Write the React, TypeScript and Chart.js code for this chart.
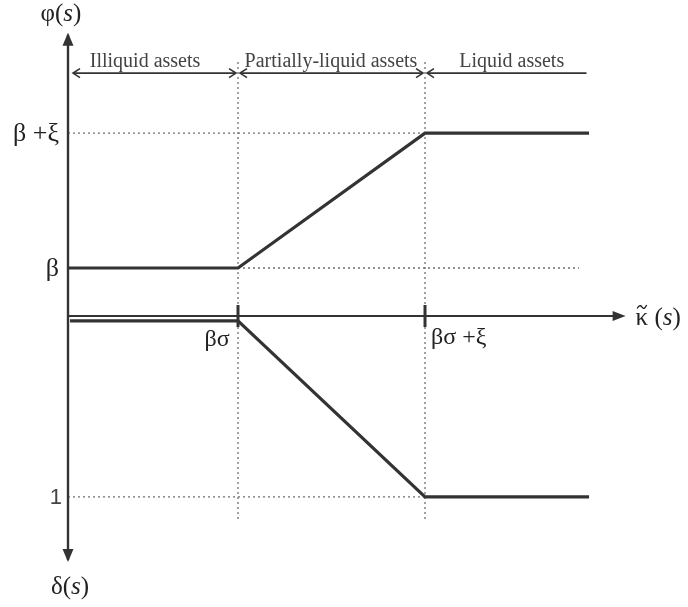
import { useEffect, useRef } from "react";
import { Chart, registerables } from "chart.js";

Chart.register(...registerables);

// Key points on the horizontal axis κ̃(s): origin, βσ, βσ+ξ, right end of the curves
const kappaPoints = [0, 1, 2.1, 3.065];
// Upper panel: φ(s) at those points
const phiValues = [1, 1, 3.81, 3.81];
// Lower panel: δ(s), drawn downward from the axis
const deltaValues = [-0.1, -0.1, -3.77, -3.77];
const deltaStart = 0.012;

// Tick labels
const kappaTickValues = [1, 2.1];
const kappaTickLabels = ["βσ", "βσ +ξ"];
const phiTickValues = [3.81, 1];
const phiTickLabels = ["β +ξ", "β"];
const deltaTickValues = [-3.77];
const deltaTickLabels = ["1"];

// Regions along the top
const regionLabels = ["Illiquid assets", "Partially-liquid assets", "Liquid assets"];
const regionBounds = [0, 1, 2.1, 3.05];
const regionLabelCenters = [0.453, 1.547, 2.61];

// Axis / guide extents (data units)
const xAxisEnd = 3.28;
const yAxisTop = 5.9;
const yAxisBottom = -5.125;
const regionArrowY = 5.06;
const guideTop = 5.29;
const guideBottom = -4.25;
const betaGuideEnd = 3.006;

const X_MIN = -0.4;
const X_MAX = 3.647;
const Y_MIN = -6.0625;
const Y_MAX = 6.583;

const INK = "#333333";
const SERIF = "'Liberation Serif', 'Times New Roman', serif";
const SANS = "'Liberation Sans', Arial, sans-serif";

type Part = [string, boolean];

function drawMath(
  ctx: CanvasRenderingContext2D,
  parts: Part[],
  x: number,
  y: number,
  align: "left" | "center" | "right",
  size: number,
  family: string = SERIF
) {
  ctx.textBaseline = "middle";
  ctx.textAlign = "left";
  const fonts = parts.map(([, it]) => `${it ? "italic " : ""}${size}px ${family}`);
  const widths = parts.map(([t], i) => {
    ctx.font = fonts[i];
    return ctx.measureText(t).width;
  });
  const total = widths.reduce((a, b) => a + b, 0);
  let cx = align === "left" ? x : align === "center" ? x - total / 2 : x - total;
  const starts: number[] = [];
  parts.forEach(([t], i) => {
    ctx.font = fonts[i];
    starts.push(cx);
    ctx.fillText(t, cx, y);
    cx += widths[i];
  });
  return { starts, widths };
}

function triangle(ctx: CanvasRenderingContext2D, tx: number, ty: number, dx: number, dy: number, len: number, half: number) {
  const bx = tx - dx * len;
  const by = ty - dy * len;
  const px = -dy;
  const py = dx;
  ctx.beginPath();
  ctx.moveTo(tx, ty);
  ctx.lineTo(bx + px * half, by + py * half);
  ctx.lineTo(bx - px * half, by - py * half);
  ctx.closePath();
  ctx.fill();
}

function chevron(ctx: CanvasRenderingContext2D, tx: number, ty: number, dir: number) {
  ctx.beginPath();
  ctx.moveTo(tx - dir * 7, ty - 4.5);
  ctx.lineTo(tx, ty);
  ctx.lineTo(tx - dir * 7, ty + 4.5);
  ctx.stroke();
}

const diagramPlugin = {
  id: "diagram",
  afterDatasetsDraw(chart: any) {
    const ctx: CanvasRenderingContext2D = chart.ctx;
    const xs = chart.scales.x;
    const ys = chart.scales.y;
    const X = (v: number) => xs.getPixelForValue(v);
    const Y = (v: number) => ys.getPixelForValue(v);
    ctx.save();

    // Axis arrowheads
    ctx.fillStyle = INK;
    triangle(ctx, X(0), Y(yAxisTop), 0, -1, 13, 5.5);
    triangle(ctx, X(0), Y(yAxisBottom), 0, 1, 13, 5.5);
    triangle(ctx, X(xAxisEnd), Y(0), 1, 0, 13, 5);

    // Ticks on horizontal axis
    ctx.strokeStyle = INK;
    ctx.lineWidth = 3;
    kappaTickValues.forEach((v) => {
      ctx.beginPath();
      ctx.moveTo(X(v), Y(0) - 11);
      ctx.lineTo(X(v), Y(0) + 11);
      ctx.stroke();
    });

    // Region arrows
    ctx.lineWidth = 1.6;
    ctx.strokeStyle = INK;
    const ay = Y(regionArrowY);
    for (let i = 0; i < regionLabels.length; i++) {
      const l = X(regionBounds[i]) + (i === 0 ? 5 : 2);
      const r = X(regionBounds[i + 1]) - (i === regionLabels.length - 1 ? 0 : 2);
      ctx.beginPath();
      ctx.moveTo(l, ay);
      ctx.lineTo(r, ay);
      ctx.stroke();
      chevron(ctx, l, ay, -1);
      if (i < regionLabels.length - 1) chevron(ctx, r, ay, 1);
    }

    // Region labels
    ctx.fillStyle = "#444";
    ctx.font = `20px ${SERIF}`;
    ctx.textAlign = "center";
    ctx.textBaseline = "alphabetic";
    regionLabels.forEach((t, i) => {
      ctx.fillText(t, X(regionLabelCenters[i]), ay - 6);
    });

    // Tick labels
    ctx.fillStyle = "#222";
    phiTickValues.forEach((v, i) => {
      drawMath(ctx, [[phiTickLabels[i], false]], X(0) - 9, Y(v) + 1, "right", 26);
    });
    drawMath(ctx, [[kappaTickLabels[0], false]], X(kappaTickValues[0]) - 21, Y(0) + 24, "center", 24);
    drawMath(ctx, [[kappaTickLabels[1], false]], X(kappaTickValues[1]) + 6, Y(0) + 22, "left", 24);
    deltaTickValues.forEach((v, i) => {
      ctx.fillStyle = "#444";
      drawMath(ctx, [[deltaTickLabels[i], false]], X(0) - 6, Y(v) + 1, "right", 22, SANS);
    });

    // Axis titles
    ctx.fillStyle = "#222";
    drawMath(ctx, [["φ", false], ["(", false], ["s", true], [")", false]], X(0) - 7, Y(yAxisTop) - 18, "center", 25);
    drawMath(ctx, [["δ", false], ["(", false], ["s", true], [")", false]], X(0) + 2, Y(yAxisBottom) + 25, "center", 25);
    const k = drawMath(ctx, [["κ", false], [" (", false], ["s", true], [")", false]], X(xAxisEnd) + 10, Y(0) + 2, "left", 25);
    // tilde over κ
    const tx0 = k.starts[0] + 1.5;
    const tw = k.widths[0] - 3;
    const ty = Y(0) - 9;
    ctx.strokeStyle = "#222";
    ctx.lineWidth = 1.3;
    ctx.beginPath();
    ctx.moveTo(tx0, ty + 1.5);
    ctx.bezierCurveTo(tx0 + tw * 0.25, ty - 3, tx0 + tw * 0.45, ty - 1, tx0 + tw * 0.55, ty + 0.5);
    ctx.bezierCurveTo(tx0 + tw * 0.7, ty + 2.5, tx0 + tw * 0.85, ty + 1, tx0 + tw, ty - 2);
    ctx.stroke();

    ctx.restore();
  },
};

export default function App() {
  const ref = useRef<HTMLCanvasElement>(null);

  useEffect(() => {
    const solid = (data: { x: number; y: number }[], width: number) => ({
      data,
      borderColor: INK,
      borderWidth: width,
      showLine: true,
      pointRadius: 0,
      fill: false,
      tension: 0,
      borderJoinStyle: "miter" as const,
      borderCapStyle: "butt" as const,
    });
    const dotted = (data: { x: number; y: number }[]) => ({
      data,
      borderColor: "#6f6f6f",
      borderWidth: 1.3,
      borderDash: [2, 3],
      showLine: true,
      pointRadius: 0,
      fill: false,
      tension: 0,
    });

    const phiData = kappaPoints.map((x, i) => ({ x, y: phiValues[i] }));
    const deltaData = kappaPoints.map((x, i) => ({ x: i === 0 ? deltaStart : x, y: deltaValues[i] }));

    const chart = new Chart(ref.current as HTMLCanvasElement, {
      type: "scatter",
      data: {
        datasets: [
          solid(phiData, 3.2),
          solid(deltaData, 3.2),
          solid([{ x: 0, y: yAxisBottom + 2 / 48 }, { x: 0, y: yAxisTop - 2 / 48 }], 2.4),
          solid([{ x: 0, y: 0 }, { x: xAxisEnd - 0.02, y: 0 }], 2),
          dotted([{ x: kappaPoints[0], y: phiValues[3] }, { x: kappaPoints[2], y: phiValues[3] }]),
          dotted([{ x: kappaPoints[1], y: phiValues[0] }, { x: betaGuideEnd, y: phiValues[0] }]),
          dotted([{ x: kappaPoints[0], y: deltaValues[3] }, { x: kappaPoints[2], y: deltaValues[3] }]),
          dotted([{ x: kappaPoints[1], y: guideTop }, { x: kappaPoints[1], y: guideBottom }]),
          dotted([{ x: kappaPoints[2], y: guideTop }, { x: kappaPoints[2], y: guideBottom }]),
        ] as any,
      },
      options: {
        responsive: false,
        devicePixelRatio: 1,
        animation: false,
        events: [],
        layout: { padding: 0 },
        plugins: { legend: { display: false }, tooltip: { enabled: false } },
        scales: {
          x: { type: "linear", min: X_MIN, max: X_MAX, display: false },
          y: { type: "linear", min: Y_MIN, max: Y_MAX, display: false },
        },
      },
      plugins: [diagramPlugin],
    });
    return () => chart.destroy();
  }, []);

  return (
    <div style={{ position: "fixed", left: 0, top: 0, width: 688, height: 607, background: "#fff" }}>
      <canvas ref={ref} width={688} height={607} style={{ display: "block", width: 688, height: 607 }} />
    </div>
  );
}
